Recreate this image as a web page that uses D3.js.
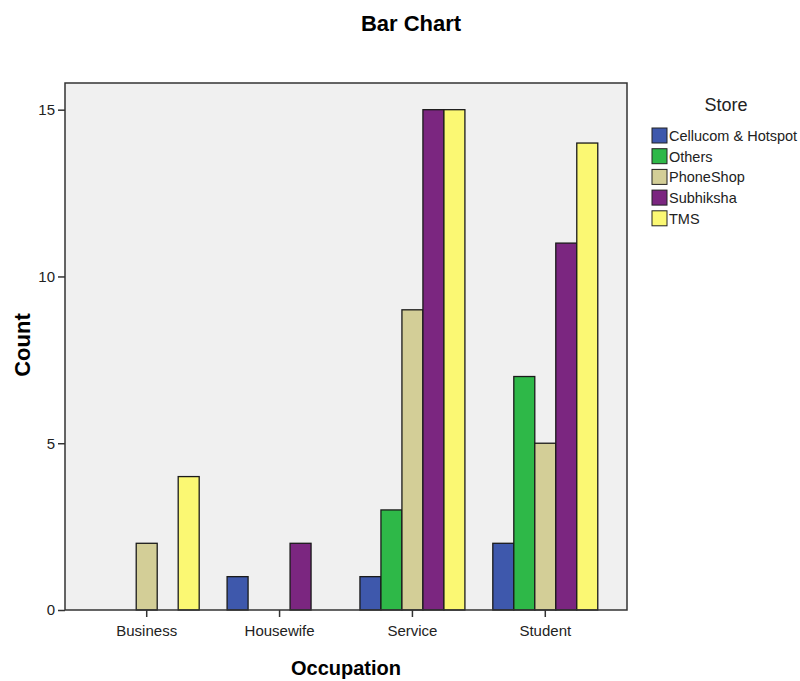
<!DOCTYPE html>
<html>
<head>
<meta charset="utf-8">
<script src="https://cdn.jsdelivr.net/npm/d3@7"></script>
<style>
  body { margin: 0; background: #fff; }
  svg text { font-family: "Liberation Sans", Arial, sans-serif; }
</style>
</head>
<body>
<div id="chart"></div>
<script>
var occupations = ['Business', 'Housewife', 'Service', 'Student'];
var stores = ['Cellucom & Hotspot', 'Others', 'PhoneShop', 'Subhiksha', 'TMS'];
var storeColors = ['#3e58ac', '#2eb848', '#d3ce97', '#7b2680', '#fbf873'];
// counts per store, in occupation order
var cellucom = [0, 1, 1, 2];
var others = [0, 0, 3, 7];
var phoneShop = [2, 0, 9, 5];
var subhiksha = [0, 2, 15, 11];
var tms = [4, 0, 15, 14];
var yTicks = [0, 5, 10, 15];

var series = [cellucom, others, phoneShop, subhiksha, tms];

var width = 800, height = 681;
var plot = {left: 65, right: 627, top: 83, bottom: 610};

var svg = d3.select('#chart').append('svg').attr('width', width).attr('height', height);

svg.append('rect').attr('x', plot.left).attr('y', plot.top)
    .attr('width', plot.right - plot.left).attr('height', plot.bottom - plot.top)
    .attr('fill', '#f0f0f0');

var x = d3.scaleBand().domain(occupations).range([plot.left, plot.right]).paddingInner(0.21).paddingOuter(0.22);
var xs = d3.scaleBand().domain(stores).range([0, x.bandwidth()]);
var y = d3.scaleLinear().domain([0, 15.8]).range([plot.bottom, plot.top]);

var rows = [];
occupations.forEach((o, i) => stores.forEach((s, j) => rows.push({occ: o, store: s, val: series[j][i], c: storeColors[j]})));

svg.append('g').selectAll('rect').data(rows.filter(d => d.val > 0)).enter().append('rect')
    .attr('x', d => x(d.occ) + xs(d.store))
    .attr('width', xs.bandwidth())
    .attr('y', d => y(d.val))
    .attr('height', d => y(0) - y(d.val))
    .attr('fill', d => d.c)
    .attr('stroke', '#1a1a1a').attr('stroke-width', 1.3);

// frame
svg.append('rect').attr('x', plot.left).attr('y', plot.top)
    .attr('width', plot.right - plot.left).attr('height', plot.bottom - plot.top)
    .attr('fill', 'none').attr('stroke', '#333').attr('stroke-width', 1.5);

var yAxis = svg.append('g').attr('transform', `translate(${plot.left},0)`)
    .call(d3.axisLeft(y).tickValues(yTicks).tickSize(7).tickPadding(3).tickFormat(d3.format('d')));
yAxis.select('.domain').remove();
yAxis.selectAll('text').style('font-size', '15px').attr('fill', '#222');
yAxis.selectAll('line').attr('stroke', '#333').attr('stroke-width', 1.5);

var xAxis = svg.append('g').attr('transform', `translate(0,${plot.bottom})`)
    .call(d3.axisBottom(x).tickSize(7).tickPadding(8));
xAxis.select('.domain').remove();
xAxis.selectAll('text').style('font-size', '15px').attr('fill', '#222');
xAxis.selectAll('line').attr('stroke', '#333').attr('stroke-width', 1.5);

svg.append('text').text('Bar Chart').attr('x', 411).attr('y', 31)
    .attr('text-anchor', 'middle').style('font-size', '22px').style('font-weight', 'bold');
svg.append('text').text('Occupation').attr('x', 346).attr('y', 675)
    .attr('text-anchor', 'middle').style('font-size', '20px').style('font-weight', 'bold');
svg.append('text').text('Count').attr('transform', 'translate(30,345)rotate(-90)')
    .attr('text-anchor', 'middle').style('font-size', '22px').style('font-weight', 'bold');

// legend
var legend = svg.append('g').attr('transform', 'translate(652,0)');
legend.append('text').text('Store').attr('x', 74).attr('y', 111)
    .attr('text-anchor', 'middle').style('font-size', '18px').attr('fill', '#222');
var item = legend.selectAll('g').data(stores).enter().append('g')
    .attr('transform', (d, i) => `translate(0,${128 + i * 20.7})`);
item.append('rect').attr('width', 15).attr('height', 15)
    .attr('fill', (d, i) => storeColors[i]).attr('stroke', '#222').attr('stroke-width', 1);
item.append('text').text(d => d).attr('x', 17).attr('y', 13)
    .style('font-size', '14.5px').attr('fill', '#222');
</script>
</body>
</html>
